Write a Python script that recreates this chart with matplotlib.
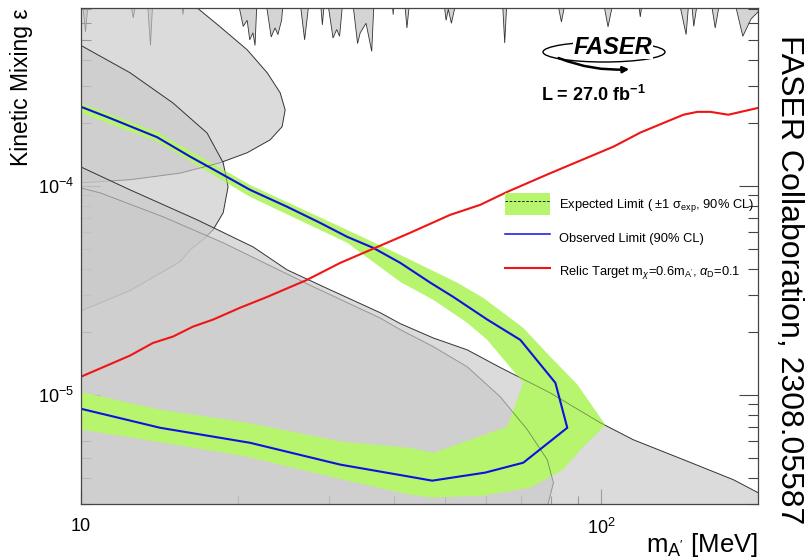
import matplotlib
matplotlib.use('Agg')
import matplotlib.pyplot as plt
from matplotlib.patches import Polygon, Patch, Ellipse, FancyArrowPatch
from matplotlib.lines import Line2D
from matplotlib.ticker import FixedLocator, NullFormatter, LogLocator

plt.rcParams['font.family'] = ['Liberation Sans', 'DejaVu Sans']
plt.rcParams['mathtext.fontset'] = 'custom'
plt.rcParams['mathtext.rm'] = 'Liberation Sans'
plt.rcParams['mathtext.it'] = 'Liberation Sans:italic'
plt.rcParams['mathtext.bf'] = 'Liberation Sans:bold'

# observed limit (90% CL), upper branch -> tip -> lower branch
obs_m = [10, 11.37, 14.0, 16.21, 18.51, 21.13, 24.9, 28.81, 32.48, 36.43, 41.07, 46.91, 51.93,
         60.37, 69.88, 81.6, 86.0, 70.8, 59.8, 47.3, 42.9, 31.5, 21.13, 14.19, 10]
obs_eps = [2.39e-4, 2.11e-4, 1.71e-4, 1.38e-4, 1.15e-4, 9.57e-5, 7.94e-5, 6.65e-5, 5.70e-5, 5.05e-5,
           4.28e-5, 3.44e-5, 2.94e-5, 2.29e-5, 1.83e-5, 1.14e-5, 6.95e-6, 4.73e-6, 4.24e-6, 3.88e-6,
           4.05e-6, 4.63e-6, 5.89e-6, 6.95e-6, 8.57e-6]

# expected +-1 sigma band: outer and inner edges
band_out_m = [10, 14.0, 21.13, 32.48, 41.07, 52.86, 59.3, 70.8, 79.8, 89.9, 101.8, 91.1, 84.5, 73.0,
              59.3, 47.5, 42.9, 31.9, 20.86, 14.38, 10]
band_out_eps = [2.49e-4, 1.81e-4, 1.01e-4, 6.15e-5, 4.67e-5, 3.44e-5, 2.91e-5, 2.09e-5, 1.52e-5,
                1.12e-5, 7.18e-6, 5.45e-6, 4.38e-6, 3.59e-6, 3.29e-6, 3.22e-6, 3.32e-6, 3.92e-6,
                5.05e-6, 5.89e-6, 6.81e-6]
band_in_m = [10, 14.19, 20.86, 31.8, 42.9, 47.5, 65.95, 70.8, 60.37, 55.25, 47.5, 41.07, 32.48,
             21.13, 14.0, 10]
band_in_eps = [1.03e-5, 8.48e-6, 7.35e-6, 5.96e-6, 5.57e-6, 5.27e-6, 7.03e-6, 1.14e-5, 1.83e-5,
               2.21e-5, 2.85e-5, 3.47e-5, 5.34e-5, 8.86e-5, 1.63e-4, 2.23e-4]

# relic target line
relic_m = [10, 12.42, 13.75, 15.03, 16.42, 17.94, 20.22, 22.79, 27.2, 31.5, 36.43, 42.9, 51.2, 58.5,
           65.95, 79.8, 105.5, 118.9, 143.8, 152.9, 162.0, 175.4, 200]
relic_eps = [1.22e-5, 1.54e-5, 1.77e-5, 1.90e-5, 2.12e-5, 2.29e-5, 2.61e-5, 2.94e-5, 3.55e-5, 4.28e-5,
             5.0e-5, 5.96e-5, 7.26e-5, 8.11e-5, 9.36e-5, 1.15e-4, 1.54e-4, 1.80e-4, 2.19e-4, 2.26e-4,
             2.26e-4, 2.19e-4, 2.36e-4]

# prompt searches hanging from the top
prompt_m = [9.8, 10.05, 10.2, 10.35, 12.4, 12.6, 12.8, 13.4, 13.6, 13.75, 15.6, 15.7, 15.85,
            19.95, 20.5, 20.86, 21.1, 21.4, 21.6, 21.8, 22.6, 23.2, 23.6, 23.9, 24.3, 24.5,
            26.3, 26.9, 27.5, 28.8, 29.1, 29.4, 29.7, 30.5, 31.0, 31.4, 31.9,
            33.2, 34.0, 34.4, 35.3, 36.2, 36.6, 39.6, 39.8, 40.0, 41.8, 42.3, 42.9,
            49.7, 50.3, 50.8, 51.5, 52.2, 52.8, 64.5, 65.2, 65.9, 82.0, 83.8, 85.6,
            100.5, 103.0, 105.8, 117.5, 118.8, 120.2, 140.5, 145.5, 147.5, 148.8, 150.5, 153.5,
            162.0, 165.5, 169.5, 179.5, 187.0, 194.0, 200.0, 205.0]
prompt_eps = [8e-4, 8e-4, 5.46e-4, 8e-4, 8e-4, 6.37e-4, 8e-4, 8e-4, 4.7e-4, 8e-4, 8e-4, 6.6e-4, 8e-4,
              8e-4, 5.8e-4, 6.2e-4, 5.0e-4, 5.4e-4, 4.7e-4, 8e-4, 8e-4, 5.16e-4, 5.7e-4, 5.3e-4, 6.22e-4, 8e-4,
              8e-4, 5.0e-4, 8e-4, 8e-4, 5.9e-4, 8e-4, 8e-4, 5.1e-4, 5.6e-4, 5.2e-4, 8e-4,
              8e-4, 4.8e-4, 5.4e-4, 6.0e-4, 4.4e-4, 8e-4, 8e-4, 6.6e-4, 8e-4, 8e-4, 5.7e-4, 8e-4,
              8e-4, 6.2e-4, 7.0e-4, 6.0e-4, 7.0e-4, 8e-4, 8e-4, 4.83e-4, 8e-4, 8e-4, 6.09e-4, 8e-4,
              8e-4, 5.77e-4, 8e-4, 8e-4, 6.44e-4, 8e-4, 8e-4, 5.3e-4, 8e-4, 8e-4, 5.8e-4, 8e-4,
              8e-4, 5.7e-4, 8e-4, 8e-4, 5.2e-4, 6.3e-4, 6.8e-4, 8e-4]

# beam dump exclusions
dump_a_m = [9.8, 15.6, 18.51, 20.86, 22.79, 24.14, 24.68, 24.35, 23.09, 20.86, 18.51, 15.50, 12.42, 9.8]
dump_a_eps = [1e-3, 8.2e-4, 5.77e-4, 4.48e-4, 3.48e-4, 2.79e-4, 2.31e-4, 1.92e-4, 1.66e-4, 1.44e-4,
              1.29e-4, 1.15e-4, 1.07e-4, 1.03e-4]
dump_b_m = [9.8, 12.42, 15.03, 17.47, 18.76, 19.17, 18.76, 17.94, 17.16, 16.21, 15.50, 12.42, 9.8]
dump_b_eps = [4.83e-4, 3.48e-4, 2.49e-4, 1.79e-4, 1.29e-4, 9.89e-5, 7.43e-5, 6.16e-5, 5.52e-5,
              4.94e-5, 4.33e-5, 3.15e-5, 2.47e-5]
dump_d_m = [9.8, 10.88, 14.38, 18.76, 27.94, 32.48, 37.58, 41.07, 47.53, 55.25, 63.94, 72.05, 78.7,
            80.9, 78.7, 9.8]
dump_d_eps = [9.89e-5, 9.26e-5, 7.11e-5, 5.34e-5, 3.29e-5, 2.76e-5, 2.33e-5, 2.05e-5, 1.70e-5,
              1.36e-5, 9.78e-6, 6.81e-6, 4.89e-6, 3.79e-6, 2.9e-6, 2.5e-6]
dump_c_m = [9.8, 12.42, 16.71, 21.42, 24.90, 30.11, 37.58, 41.07, 47.53, 55.25, 63.94, 79.8, 99.5,
            115.2, 143.8, 179.4, 200, 210, 210, 9.8]
dump_c_eps = [1.26e-4, 9.57e-5, 6.88e-5, 5.10e-5, 3.96e-5, 3.18e-5, 2.47e-5, 2.19e-5, 1.87e-5,
              1.64e-5, 1.35e-5, 1.02e-5, 7.35e-6, 6.09e-6, 4.89e-6, 3.92e-6, 3.40e-6, 3.2e-6, 2e-6, 2e-6]

green = '#b8f56e'
blue = '#1010e0'
red = '#f01414'
gray_fill = (0.79, 0.79, 0.79, 0.66)
edge = '#333333'

fig = plt.figure(figsize=(8.07, 5.59), dpi=100)
ax = fig.add_axes([81/807, 1-504/559, 677/807, 496/559])
ax.set_xscale('log')
ax.set_yscale('log')
ax.set_xlim(10, 200)
ax.set_ylim(3e-6, 7.1e-4)

ax.add_patch(Polygon(list(zip(prompt_m + [205, 9.8], prompt_eps + [1e-3, 1e-3])),
                     facecolor='#d4d4d4', edgecolor=edge, lw=0.6, zorder=1))

regions = [(dump_a_m, dump_a_eps), (dump_b_m, dump_b_eps), (dump_d_m, dump_d_eps), (dump_c_m, dump_c_eps)]
for i, (m, e) in enumerate(regions):
    ax.add_patch(Polygon(list(zip(m, e)), facecolor=gray_fill, edgecolor=edge, lw=0.7, zorder=2 + i))

band_pts = list(zip(band_out_m, band_out_eps)) + list(zip(band_in_m, band_in_eps))
band = Polygon(band_pts, facecolor=green, edgecolor='none', zorder=7)
ax.add_patch(band)

# region outlines stay visible through the band
for m, e in regions:
    ln, = ax.plot(m + m[:1], e + e[:1], color=edge, lw=0.6, alpha=0.55, zorder=7.5)
    ln.set_clip_path(band)

ax.plot(obs_m, obs_eps, color=blue, lw=1.5, zorder=8)
ax.plot(relic_m, relic_eps, color=red, lw=1.5, zorder=9)

# axes and ticks
for s in ax.spines.values():
    s.set_color('#444444')
    s.set_linewidth(0.9)
    s.set_zorder(10)
ax.set_xticks([10, 100])
ax.set_xticklabels(['10', '$10^{2}$'])
ax.xaxis.set_minor_locator(FixedLocator([20, 30, 40, 50, 60, 70, 80, 90]))
ax.xaxis.set_minor_formatter(NullFormatter())
ax.set_yticks([1e-5, 1e-4])
ax.set_yticklabels(['$10^{-5}$', '$10^{-4}$'])
ax.yaxis.set_minor_locator(LogLocator(base=10, subs=range(2, 10), numticks=20))
ax.yaxis.set_minor_formatter(NullFormatter())
ax.tick_params(axis='y', which='major', direction='in', length=14, width=0.8, color='#444444',
               left=True, right=True, labelsize=13, pad=5)
ax.tick_params(axis='y', which='minor', direction='in', length=7.5, width=0.8, color='#444444',
               left=True, right=True)
ax.tick_params(axis='x', which='major', direction='in', length=10.5, width=0.8, color='#444444',
               top=False, labelsize=13, pad=10)
ax.tick_params(axis='x', which='minor', direction='in', length=5.5, width=0.8, color='#444444', top=False)

h_exp = (Patch(facecolor=green, edgecolor='none'), Line2D([], [], color='k', ls=(0, (3, 2)), lw=0.6))
h_obs = Line2D([], [], color=blue, lw=1.1)
h_rel = Line2D([], [], color=red, lw=1.5)
labels = ['Expected Limit ( ±1 σ$_{\\mathrm{exp}}$, 90% CL)',
          'Observed Limit (90% CL)',
          "Relic Target m$_{\\chi}$=0.6m$_{\\mathrm{A'}}$, $\\alpha_{\\mathrm{D}}$=0.1"]
leg = ax.legend([h_exp, h_obs, h_rel], labels, loc='upper left',
                bbox_to_anchor=(505/807, 1-193/559), bbox_transform=fig.transFigure,
                frameon=False, fontsize=9.3, handlelength=3.5, handleheight=2.3,
                labelspacing=0.85, handletextpad=0.7, borderpad=0, borderaxespad=0)
leg.set_zorder(11)

# labels and annotations
fig.text(21.5/807, 1-8/559, 'Kinetic Mixing ε', rotation=90, fontsize=16.5, ha='center', va='top')
fig.text(758/807, 1-552/559, "m$_{\\mathrm{A'}}$ [MeV]", fontsize=18.5, ha='right', va='baseline')
fig.text(789/807, 1-35/559, 'FASER Collaboration, 2308.05587', rotation=-90, fontsize=23,
         ha='center', va='top')

fig.add_artist(Ellipse((604/807, 1-52/559), 122/807, 20/559, transform=fig.transFigure,
                       fill=False, lw=1.0, ec='k', zorder=3))
fig.add_artist(FancyArrowPatch((556/807, 1-57/559), (632/807, 1-69/559), transform=fig.transFigure,
                               arrowstyle='-|>', mutation_scale=9, lw=1.8, color='k',
                               connectionstyle='arc3,rad=0.12', zorder=3))
fig.text(613/807, 1-47/559, 'FASER', fontsize=17, fontweight='bold', fontstyle='italic',
         ha='center', va='center', zorder=4,
         bbox=dict(facecolor='white', edgecolor='none', pad=0.5))
fig.text(593/807, 1-95/559, 'L = 27.0 fb$^{\\mathbf{-1}}$', fontsize=13, fontweight='bold',
         ha='center', va='center')

fig.savefig('out.png', dpi=100)
